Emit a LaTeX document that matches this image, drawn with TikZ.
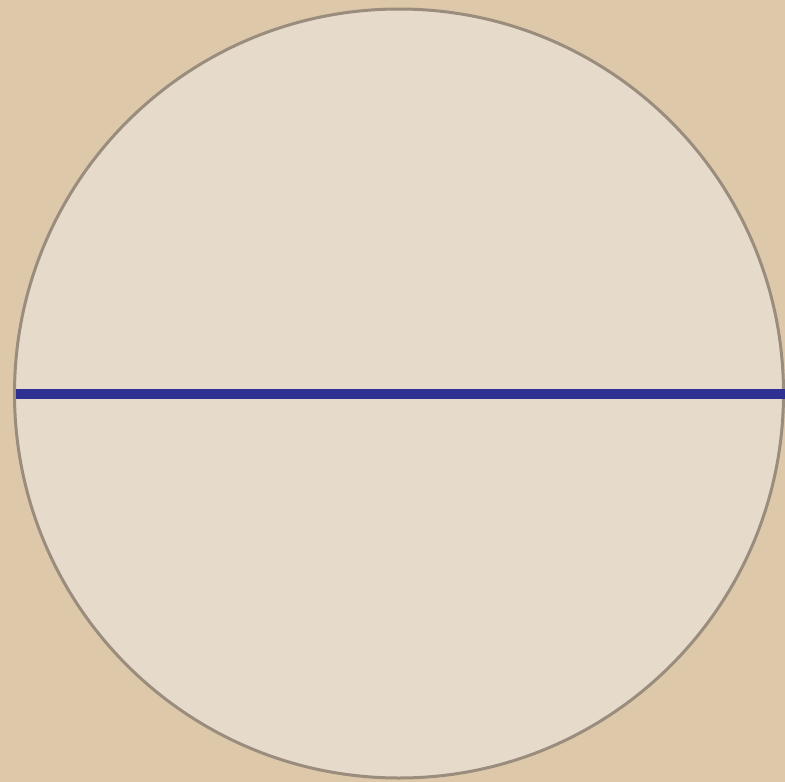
\documentclass[tikz,border=0pt]{standalone}
\definecolor{bgtan}{HTML}{DDC8AA}
\definecolor{discfill}{HTML}{E6DACA}
\definecolor{discedge}{HTML}{9A8D7D}
\definecolor{diamblue}{HTML}{2E3192}
\tikzset{disc/.style={fill=discfill,draw=discedge,line width=3pt},
  diam/.style={draw=diamblue,line width=10pt}}
\begin{document}
\begin{tikzpicture}[x=1pt,y=-1pt]
\fill[bgtan] (0,0) rectangle (785,782);
\useasboundingbox (0,0) rectangle (785,782);
\coordinate (c) at (399,393.5);
\draw[disc] (c) circle[radius=384.5];
\coordinate (l) at (15.5,394);
\coordinate (r) at (785,394);
\draw[diam] (l) -- (r);
\end{tikzpicture}
\end{document}
